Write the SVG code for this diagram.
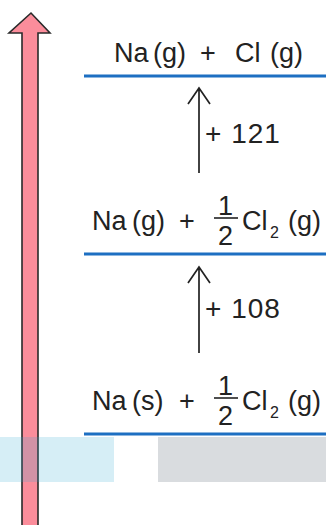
<svg xmlns="http://www.w3.org/2000/svg" width="326" height="525" viewBox="0 0 326 525">
<defs>
<style>
.t{font-family:"Liberation Sans",Arial,sans-serif;font-size:27px;fill:#222}
.n{font-family:"Liberation Sans",Arial,sans-serif;font-size:28px;fill:#222;letter-spacing:1px}
.s{font-family:"Liberation Sans",Arial,sans-serif;font-size:16px;fill:#222}
.lvl{stroke:#1d6fc2;stroke-width:3;fill:none}
.bar{stroke:#222;stroke-width:1.6}
.conn{stroke:#222;stroke-width:1.7;fill:none}
</style>
</defs>
<rect width="326" height="525" fill="#fff"/>
<g id="energy-axis">
<polygon points="22,526 22,33 9,33 31,13 50,33 38,33 38,526" fill="#fb8d9b" stroke="#2a2a2a" stroke-width="1.6" stroke-linejoin="miter"/>
</g>
<g id="level-top">
<text class="t" x="114" y="62">Na</text>
<text class="t" x="153" y="62">(g)</text>
<text class="t" x="200" y="62">+</text>
<text class="t" x="235" y="62">Cl</text>
<text class="t" x="270" y="62">(g)</text>
<line class="lvl" x1="84" y1="76" x2="326" y2="76"/>
</g>
<g id="level-mid">
<text class="t" x="92" y="230">Na</text>
<text class="t" x="132" y="230">(g)</text>
<text class="t" x="179" y="230">+</text>
<text class="t" x="218" y="215">1</text>
<line class="bar" x1="214" y1="218" x2="238" y2="218"/>
<text class="t" x="218" y="245">2</text>
<text class="t" x="242" y="230">Cl</text>
<text class="s" x="270" y="238">2</text>
<text class="t" x="288" y="230">(g)</text>
<line class="lvl" x1="84" y1="254" x2="326" y2="254"/>
</g>
<g id="level-bottom">
<text class="t" x="92" y="410">Na</text>
<text class="t" x="132" y="410">(s)</text>
<text class="t" x="179" y="410">+</text>
<text class="t" x="218" y="395">1</text>
<line class="bar" x1="214" y1="398" x2="238" y2="398"/>
<text class="t" x="218" y="425">2</text>
<text class="t" x="242" y="410">Cl</text>
<text class="s" x="270" y="418">2</text>
<text class="t" x="288" y="410">(g)</text>
<line class="lvl" x1="84" y1="434" x2="326" y2="434"/>
</g>
<g id="connectors">
<path class="conn" d="M199,173 V88 M188,104 L199,88 L210,104"/>
<path class="conn" d="M199,353 V267 M188,283 L199,267 L210,283"/>
</g>
<g id="labels">
<text class="n" x="205" y="143">+ 121</text>
<text class="n" x="205" y="318">+ 108</text>
</g>
<g id="boxes">
<rect x="0" y="437" width="114" height="45" fill="rgb(50,170,210)" fill-opacity="0.2"/>
<rect x="158" y="437" width="168" height="45" fill="#d9dcdf"/>
</g>
</svg>
